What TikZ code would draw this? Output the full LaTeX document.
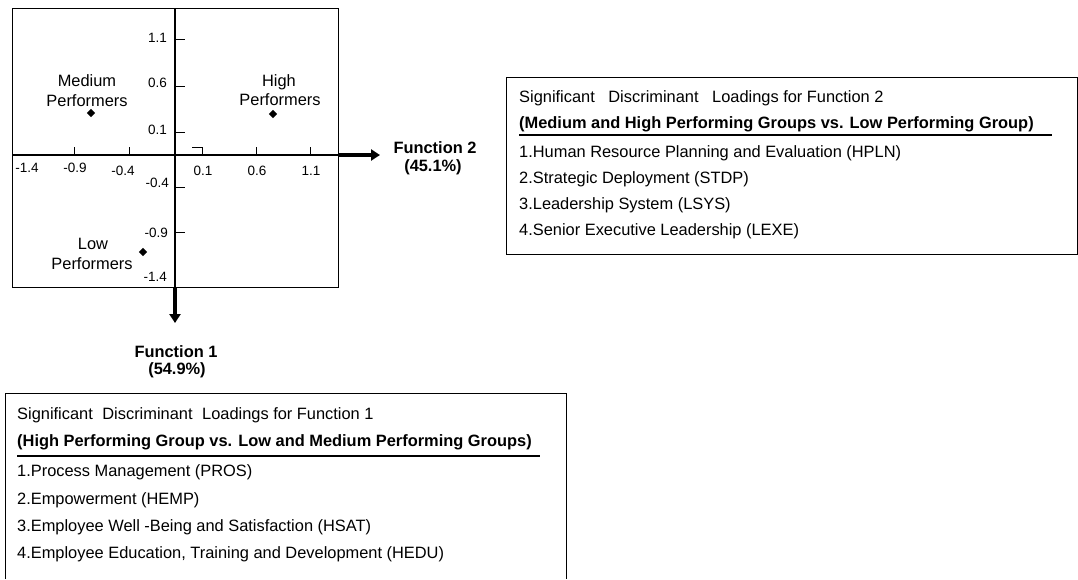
\documentclass[tikz,border=0pt]{standalone}
\usepackage{fontspec}
\setmainfont{Liberation Sans}
\usetikzlibrary{arrows.meta,shapes.geometric}
\begin{document}
\begin{tikzpicture}[x=1pt,y=-1pt,
  txt/.style={font=\fontsize{16.4}{19}\selectfont, inner sep=0pt, anchor=base west},
  btxt/.style={font=\fontsize{16.4}{19}\selectfont\bfseries, inner sep=0pt, anchor=base west},
  ticklbl/.style={font=\fontsize{13.5}{15}\selectfont, inner sep=0pt},
  lbl/.style={font=\fontsize{16.4}{19}\selectfont, inner sep=0pt, anchor=base},
  fnlbl/.style={font=\fontsize{16.4}{19}\selectfont\bfseries, inner sep=0pt, anchor=base},
  frame/.style={line width=1pt},
  axisline/.style={line width=1.6pt},
  arrowline/.style={line width=3.2pt, -{Triangle[length=9pt,width=11pt]}},
  tickline/.style={line width=1pt},
  dot/.style={diamond, fill=black, inner sep=0pt, minimum size=8.5pt},
  uline/.style={line width=1.2pt},
]
\useasboundingbox (0,0) rectangle (1078,579);

% plot frame
\draw[frame] (12,8) rectangle (338,287);

% axes
\coordinate (xl) at (12,155);
\coordinate (xr) at (338,155);
\coordinate (xt) at (380,155);
\coordinate (yt) at (175,8);
\coordinate (yb) at (175,287);
\coordinate (ytip) at (175,323);
\draw[axisline] (xl) -- (xr);
\draw[axisline] (yt) -- (yb);
\draw[arrowline] (xr) -- (xt);
\draw[arrowline] (yb) -- (ytip);

% y ticks
\foreach \yy in {39,86,132,187,232}
  \draw[tickline] (175,\yy) -- (185,\yy);
% x ticks
\foreach \xx in {74,129,256,310}
  \draw[tickline] (\xx,155) -- (\xx,147);
\draw[tickline] (192,147) -- (202,147) -- (202,155);

% y tick labels
\node[ticklbl, anchor=base east] (y11) at (167,42) {1.1};
\node[ticklbl, anchor=base east] (y06) at (167,87) {0.6};
\node[ticklbl, anchor=base east] (y01) at (167,134) {0.1};
\node[ticklbl, anchor=base east] (ym04) at (169,187) {-0.4};
\node[ticklbl, anchor=base east] (ym09) at (168,237) {-0.9};
\node[ticklbl, anchor=base east] (ym14) at (167,281) {-1.4};
% x tick labels
\node[ticklbl, anchor=base] (xm14) at (27,172) {-1.4};
\node[ticklbl, anchor=base] (xm09) at (75,172) {-0.9};
\node[ticklbl, anchor=base] (xm04) at (123,175) {-0.4};
\node[ticklbl, anchor=base] (x01) at (203,175) {0.1};
\node[ticklbl, anchor=base] (x06) at (257,175) {0.6};
\node[ticklbl, anchor=base] (x11) at (311,175) {1.1};

% groups
\node[dot] (med) at (91,113) {};
\node[dot] (high) at (273,114) {};
\node[dot] (low) at (143,252) {};
\node[lbl] (medA) at (87,86) {Medium};
\node[lbl] (medB) at (87,106) {Performers};
\node[lbl] (highA) at (279,86) {High};
\node[lbl] (highB) at (280,105) {Performers};
\node[lbl] (lowA) at (93,249) {Low};
\node[lbl] (lowB) at (92,269) {Performers};

% function labels
\node[fnlbl] (f2a) at (435,153) {Function 2};
\node[fnlbl] (f2b) at (433,171) {(45.1\%)};
\node[fnlbl] (f1a) at (176,357) {Function 1};
\node[fnlbl] (f1b) at (177,374) {(54.9\%)};

% box for function 2
\draw[frame] (506,77) rectangle (1077,254);
\node[txt] (b2t) at (519,102) {Significant\hspace{9pt} Discriminant\hspace{9pt} Loadings for Function 2};
\node[btxt] (b2h) at (519,128) {(Medium and High Performing Groups vs. Low Performing Group)};
\draw[uline] (519,135) -- (1052,135);
\node[txt] (b2l1) at (519,157) {1.Human Resource Planning and Evaluation (HPLN)};
\node[txt] (b2l2) at (519,183) {2.Strategic Deployment (STDP)};
\node[txt] (b2l3) at (519,209) {3.Leadership System (LSYS)};
\node[txt] (b2l4) at (519,235) {4.Senior Executive Leadership (LEXE)};

% box for function 1
\draw[frame] (5,579) -- (5,393) -- (566,393) -- (566,579);
\node[txt] (b1t) at (17,419) {Significant\hspace{5pt} Discriminant\hspace{5pt} Loadings for Function 1};
\node[btxt] (b1h) at (17,446) {(High Performing Group vs. Low and Medium Performing Groups)};
\draw[uline] (17,456) -- (540,456);
\node[txt] (b1l1) at (17,476) {1.Process Management (PROS)};
\node[txt] (b1l2) at (17,504) {2.Empowerment (HEMP)};
\node[txt] (b1l3) at (17,531) {3.Employee Well -Being and Satisfaction (HSAT)};
\node[txt] (b1l4) at (17,558) {4.Employee Education, Training and Development (HEDU)};
\end{tikzpicture}
\end{document}
